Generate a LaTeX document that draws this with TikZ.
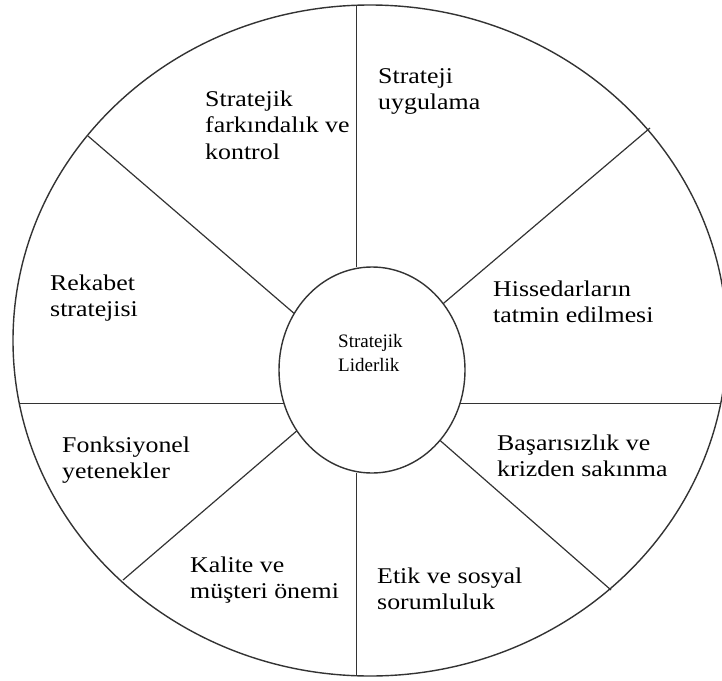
\documentclass[tikz,border=0pt]{standalone}
\usepackage{fontspec}
\setmainfont{Liberation Serif}
\newfontfamily\wheelfont[FakeStretch=1.15]{Liberation Serif}
\usetikzlibrary{shapes.geometric}

\begin{document}
\begin{tikzpicture}[x=1pt,y=-1pt,
  rimline/.style={ellipse, draw=black!80, line width=1.4pt, inner sep=0pt, outer sep=0pt},
  spoke/.style={draw=black!80, line width=1.2pt},
  sector/.style={anchor=base west, align=left, inner sep=0pt,
    font=\wheelfont\fontsize{22.5}{26.5}\selectfont},
  hub/.style={anchor=base west, align=left, inner sep=0pt,
    font=\fontsize{19}{24}\selectfont}]
\useasboundingbox (0,0) rectangle (722,680);
\begin{scope}
\clip (0,0) rectangle (722,680);
% outer wheel and central hub
\node[rimline, minimum width=714pt, minimum height=671pt] (rim) at (370,340.5) {};
\node[rimline, minimum width=186pt, minimum height=206pt] (core) at (372,370) {};

% spoke ends on the rim
\coordinate (oT) at (356.5,5.25);
\coordinate (oB) at (356.5,675.75);
\coordinate (oL) at (19.6,404.5);
\coordinate (oR) at (720.4,404.5);
\coordinate (oUL) at (88,136);
\coordinate (oUR) at (650,128);
\coordinate (oLR) at (611,590);
\coordinate (oLL) at (123,580);

% spokes
\draw[spoke] (oT |- core.north) -- (oT);
\draw[spoke] (oB |- core.south) -- (oB);
\draw[spoke] (core.201.5) -- (core.201.5 -| oL);
\draw[spoke] (core.-21.5) -- (core.-21.5 -| oR);
\draw[spoke] (core.144.3) -- (oUL);
\draw[spoke] (core.43) -- (oUR);
\draw[spoke] (core.-46.6) -- (oLR);
\draw[spoke] (core.219.2) -- (oLL);
\end{scope}

% hub label (placed by the baseline of its last line)
\node[hub] (hubtext) at (338,371) {Stratejik\\Liderlik};

% sector labels (placed by the baseline of their last line)
\node[sector] (s1) at (205,159) {Stratejik\\farkındalık ve\\kontrol};
\node[sector] (s2) at (378,109.5) {Strateji\\uygulama};
\node[sector] (s3) at (50,316.5) {Rekabet\\stratejisi};
\node[sector] (s4) at (493,322.5) {Hissedarların\\tatmin edilmesi};
\node[sector] (s5) at (62,478.5) {Fonksiyonel\\yetenekler};
\node[sector] (s6) at (497,476.5) {Başarısızlık ve\\krizden sakınma};
\node[sector] (s7) at (190,598.5) {Kalite ve\\müşteri önemi};
\node[sector] (s8) at (377,609.5) {Etik ve sosyal\\sorumluluk};
\end{tikzpicture}
\end{document}
